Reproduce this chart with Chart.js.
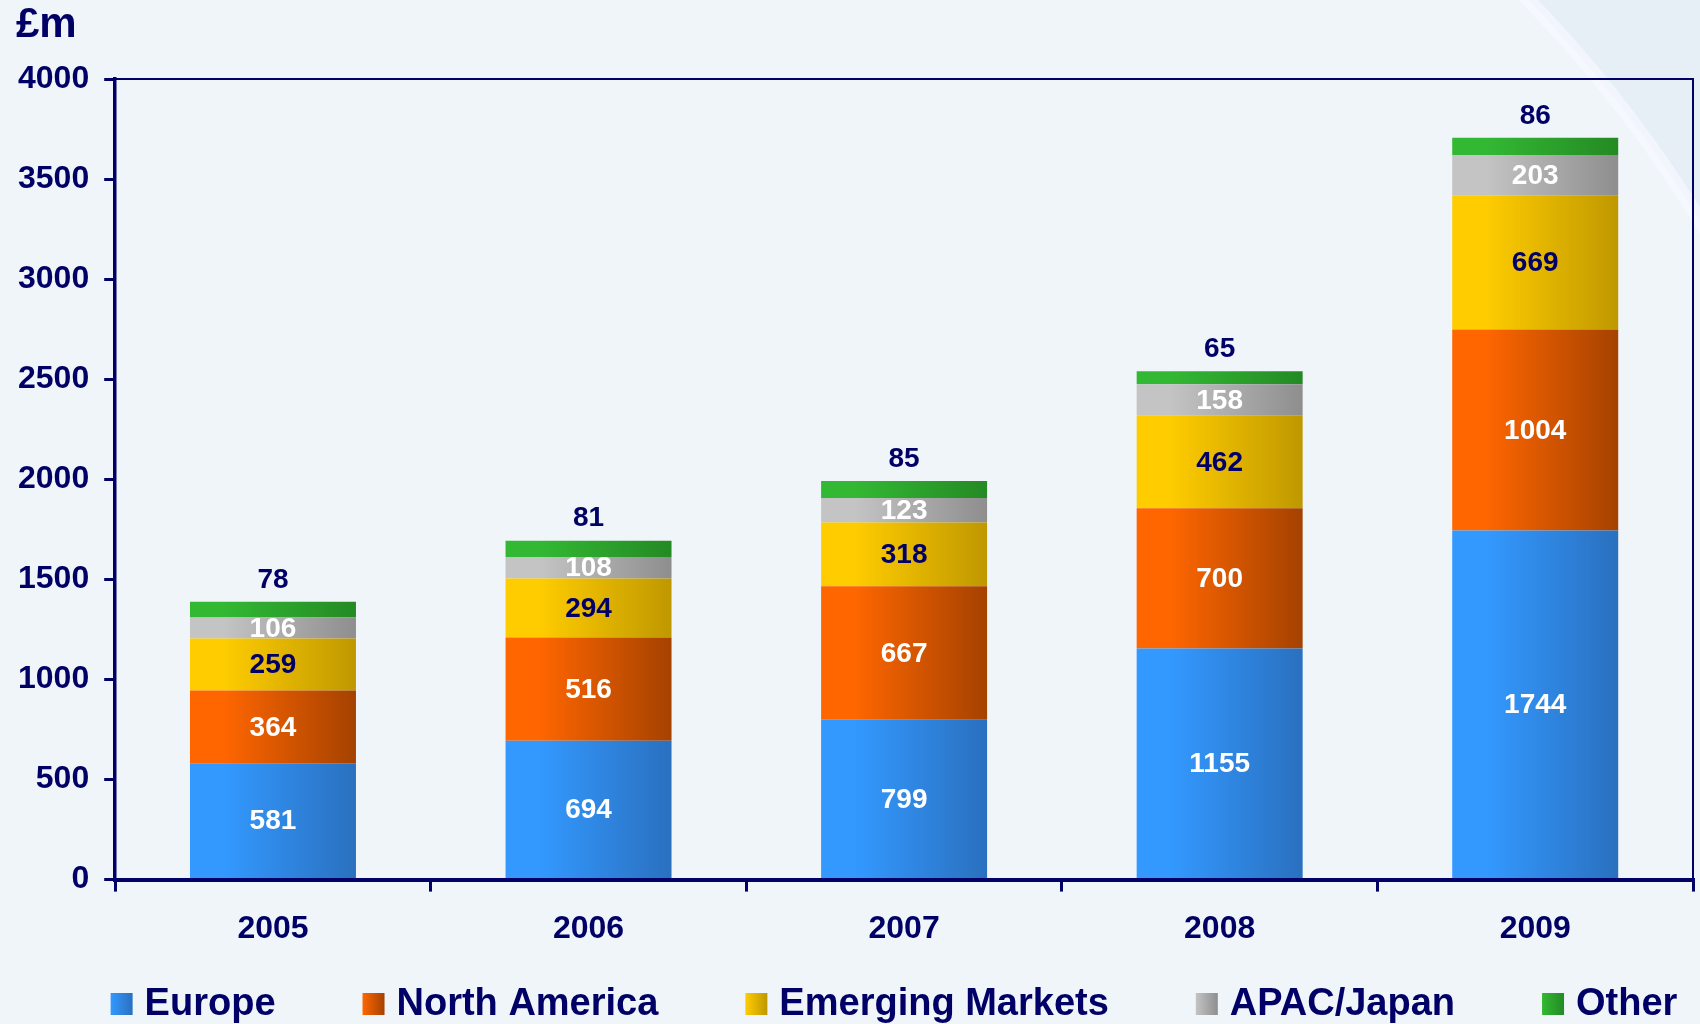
<!DOCTYPE html>
<html>
<head>
<meta charset="utf-8">
<script src="https://cdn.jsdelivr.net/npm/chart.js@4/dist/chart.umd.min.js"></script>
<style>
  body { margin: 0; background: #f0f5fa; }
  canvas { display: block; }
</style>
</head>
<body>
<canvas id="myChart_stacked" width="1700" height="1024"></canvas>
<script>
    const years = ["2005", "2006", "2007", "2008", "2009"];
    const europe = [581, 694, 799, 1155, 1744];
    const northAmerica = [364, 516, 667, 700, 1004];
    const emergingMarkets = [259, 294, 318, 462, 669];
    const apacJapan = [106, 108, 123, 158, 203];
    const other = [78, 81, 85, 65, 86];

    const navy = "#000066";
    const fontFamily = "'Liberation Sans', Arial, sans-serif";
    const barFraction = 0.526;

    // horizontal gradient across each bar
    function barGradient(left, right) {
        return function (ctx) {
            const chart = ctx.chart;
            const area = chart.chartArea;
            if (!area || ctx.dataIndex === undefined) return left;
            const x = chart.scales.x.getPixelForValue(ctx.dataIndex);
            const half = (area.right - area.left) / years.length * barFraction / 2;
            const g = chart.ctx.createLinearGradient(x - half, 0, x + half, 0);
            g.addColorStop(0, left);
            g.addColorStop(0.2, left);
            g.addColorStop(1, right);
            return g;
        };
    }

    const series = [
        { label: "Europe", data: europe, left: "#3399ff", right: "#2a70bf", text: "#ffffff" },
        { label: "North America", data: northAmerica, left: "#ff6600", right: "#a54200", text: "#ffffff" },
        { label: "Emerging Markets", data: emergingMarkets, left: "#ffcc00", right: "#bf9800", text: navy },
        { label: "APAC/Japan", data: apacJapan, left: "#c4c4c4", right: "#8e8e8e", text: "#ffffff" },
        { label: "Other", data: other, left: "#33b833", right: "#248a24", text: navy, above: true }
    ];

    const backgroundPlugin = {
        id: "background",
        beforeDraw(chart) {
            const c = chart.ctx;
            c.save();
            c.fillStyle = "#e6eff6";
            c.fillRect(0, 0, chart.width, chart.height);
            c.beginPath();
            c.arc(600, 900, 1293, 0, Math.PI * 2);
            c.fillStyle = "#f0f5fa";
            c.fill();
            c.lineWidth = 14;
            c.strokeStyle = "rgba(246,249,255,0.7)";
            c.stroke();
            c.restore();
        }
    };

    const decorPlugin = {
        id: "decor",
        afterDraw(chart) {
            const c = chart.ctx;
            const area = chart.chartArea;
            c.save();
            // top and right frame
            c.strokeStyle = navy;
            c.lineWidth = 2;
            c.beginPath();
            c.moveTo(area.left, area.top);
            c.lineTo(area.right, area.top);
            c.lineTo(area.right, area.bottom);
            c.stroke();

            // unit label
            c.fillStyle = navy;
            c.font = "bold 42px " + fontFamily;
            c.textAlign = "left";
            c.textBaseline = "middle";
            c.fillText("£m", 16, 25);

            // value labels
            c.font = "bold 28px " + fontFamily;
            c.textAlign = "center";
            series.forEach((s, i) => {
                const meta = chart.getDatasetMeta(i);
                meta.data.forEach((el, j) => {
                    c.fillStyle = s.text;
                    const y = s.above ? el.y - 23 : (el.y + el.base) / 2;
                    c.fillText(String(s.data[j]), el.x, y + 1);
                });
            });

            // legend
            c.font = "bold 38px " + fontFamily;
            const box = 22, gap = 12, spacing = 87;
            const widths = series.map(s => box + gap + c.measureText(s.label).width);
            const total = widths.reduce((a, b) => a + b, 0) + spacing * (series.length - 1);
            let x = chart.width / 2 + 44 - total / 2;
            const ly = chart.height - 20;
            c.textAlign = "left";
            series.forEach((s, i) => {
                const g = c.createLinearGradient(x, 0, x + box, 0);
                g.addColorStop(0, s.left);
                g.addColorStop(1, s.right);
                c.fillStyle = g;
                c.fillRect(x, ly - box / 2, box, box);
                c.fillStyle = navy;
                c.fillText(s.label, x + box + gap, ly + 1);
                x += widths[i] + spacing;
            });
            c.restore();
        }
    };

    new Chart("myChart_stacked", {
        type: "bar",
        data: {
            labels: years,
            datasets: series.map(s => ({
                label: s.label,
                data: s.data,
                backgroundColor: barGradient(s.left, s.right),
                borderWidth: 0,
                barPercentage: barFraction,
                categoryPercentage: 1
            }))
        },
        options: {
            responsive: false,
            animation: false,
            layout: {
                padding: { left: 3, right: 7, top: 79, bottom: 58 }
            },
            plugins: {
                legend: { display: false },
                tooltip: { enabled: false }
            },
            scales: {
                x: {
                    stacked: true,
                    border: { color: navy, width: 4 },
                    grid: {
                        offset: true,
                        drawOnChartArea: false,
                        color: navy,
                        lineWidth: 3,
                        tickLength: 12
                    },
                    ticks: {
                        color: navy,
                        padding: 18,
                        font: { family: fontFamily, size: 32, weight: "bold" }
                    }
                },
                y: {
                    stacked: true,
                    min: 0,
                    max: 4000,
                    border: { color: navy, width: 3.5 },
                    grid: {
                        drawOnChartArea: false,
                        color: navy,
                        lineWidth: 3,
                        tickLength: 11
                    },
                    ticks: {
                        stepSize: 500,
                        color: navy,
                        padding: 15,
                        callback: value => String(value),
                        font: { family: fontFamily, size: 32, weight: "bold" }
                    }
                }
            }
        },
        plugins: [backgroundPlugin, decorPlugin]
    });
</script>
</body>
</html>
